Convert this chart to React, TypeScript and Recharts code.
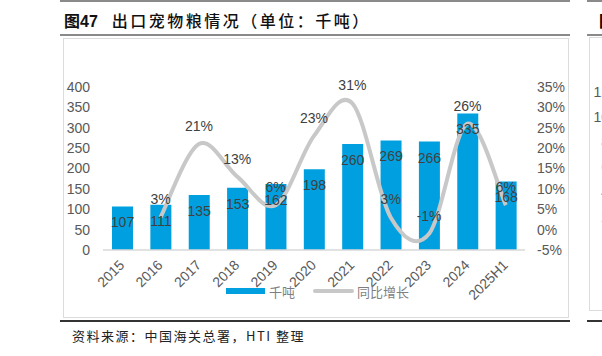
import {
  ComposedChart,
  Bar,
  Line,
  XAxis,
  YAxis,
  LabelList,
} from "recharts";

const years = ["2015", "2016", "2017", "2018", "2019", "2020", "2021", "2022", "2023", "2024", "2025H1"];
const volume = [107, 111, 135, 153, 162, 198, 260, 269, 266, 335, 168];
const growth = [null, 3, 21, 13, 6, 23, 31, 3, -1, 26, 6];
const leftTicks = [0, 50, 100, 150, 200, 250, 300, 350, 400];
const rightTicks = [-5, 0, 5, 10, 15, 20, 25, 30, 35];
const sideTicks = ["12", "10", "8", "6", "4", "2"];

const data = years.map((y, i) => ({ year: y, volume: volume[i], growth: growth[i] }));

const FONT = 'Arial, "Liberation Sans", "Noto Sans CJK SC", sans-serif';
const CJK = '"Noto Sans CJK SC", sans-serif';

// Excel-style smoothed line (catmull-rom like bezier)
function excelSmooth(context: any) {
  let pts: number[][] = [];
  return {
    areaStart() {},
    areaEnd() {},
    lineStart() {
      pts = [];
    },
    point(x: number, y: number) {
      pts.push([+x, +y]);
    },
    lineEnd() {
      if (!pts.length) return;
      context.moveTo(pts[0][0], pts[0][1]);
      for (let i = 0; i < pts.length - 1; i++) {
        const p0 = pts[i - 1] || pts[i];
        const p1 = pts[i];
        const p2 = pts[i + 1];
        const p3 = pts[i + 2] || p2;
        context.bezierCurveTo(
          p1[0] + (p2[0] - p0[0]) / 6,
          p1[1] + (p2[1] - p0[1]) / 6,
          p2[0] - (p3[0] - p1[0]) / 6,
          p2[1] - (p3[1] - p1[1]) / 6,
          p2[0],
          p2[1]
        );
      }
    },
  };
}

function YearTick({ x, y, payload }: any) {
  return (
    <text
      x={x + 3}
      y={y + 16}
      transform={`rotate(-45, ${x + 3}, ${y + 16})`}
      textAnchor="end"
      fontSize={14}
      fill="#595959"
      fontFamily={FONT}
    >
      {payload.value}
    </text>
  );
}

export default function App() {
  return (
    <div
      style={{
        position: "fixed",
        left: 0,
        top: 0,
        width: 602,
        height: 356,
        background: "#fff",
        overflow: "hidden",
        fontFamily: FONT,
      }}
    >
      <div style={{ position: "absolute", left: 60, top: 0, width: 510, height: 2, background: "#8a8a8a" }} />
      <div style={{ position: "absolute", left: 587, top: 0, width: 20, height: 2, background: "#8a8a8a" }} />
      <div
        style={{
          position: "absolute",
          left: 64,
          top: 10,
          fontSize: 16,
          lineHeight: "20px",
          color: "#111",
          whiteSpace: "nowrap",
        }}
      >
        <span style={{ fontWeight: 700, fontFamily: CJK }}>图</span>
        <span style={{ fontWeight: 700, fontFamily: FONT }}>47</span>
        <span style={{ fontFamily: CJK, fontWeight: 500, marginLeft: 14, letterSpacing: 2.5 }}>
          出口宠物粮情况（单位：千吨）
        </span>
      </div>
      <div style={{ position: "absolute", left: 599, top: 10, fontSize: 16, lineHeight: "20px", fontFamily: CJK, fontWeight: 700 }}>图</div>
      <div style={{ position: "absolute", left: 60, top: 34, width: 510, height: 2, background: "#8a8a8a" }} />
      <div style={{ position: "absolute", left: 587, top: 34, width: 20, height: 2, background: "#8a8a8a" }} />
      <div
        style={{
          position: "absolute",
          left: 63,
          top: 38,
          width: 506,
          height: 280,
          border: "1px solid #dcdcdc",
          boxSizing: "border-box",
        }}
      />
      <div
        style={{
          position: "absolute",
          left: 589,
          top: 37,
          width: 30,
          height: 274,
          border: "1px solid #dcdcdc",
          boxSizing: "border-box",
        }}
      />
      {sideTicks.map((t, i) => (
        <div
          key={t}
          style={{
            position: "absolute",
            left: 580,
            width: 29,
            textAlign: "right",
            top: 84 + i * 25,
            fontSize: 14,
            lineHeight: "16px",
            color: "#595959",
          }}
        >
          {t}
        </div>
      ))}
      <ComposedChart
        width={602}
        height={356}
        data={data}
        margin={{ top: 87, right: 32, bottom: 66, left: 63 }}
        style={{ position: "absolute", left: 0, top: 0 }}
      >
        <XAxis
          dataKey="year"
          interval={0}
          tickLine={false}
          tickSize={0}
          tickMargin={0}
          height={40}
          stroke="#d9d9d9"
          strokeWidth={1.5}
          tick={<YearTick />}
        />
        <YAxis
          yAxisId="left"
          width={40}
          domain={[0, 400]}
          ticks={leftTicks}
          interval={0}
          axisLine={false}
          tickLine={false}
          tickMargin={7}
          tick={{ fontSize: 14, fill: "#595959", fontFamily: FONT }}
        />
        <YAxis
          yAxisId="right"
          orientation="right"
          width={45}
          domain={[-5, 35]}
          ticks={rightTicks}
          interval={0}
          axisLine={false}
          tickLine={false}
          tickMargin={6}
          tickFormatter={(v: number) => `${v}%`}
          tick={{ fontSize: 14, fill: "#595959", fontFamily: FONT, textAnchor: "start" }}
        />
        <Bar yAxisId="left" dataKey="volume" fill="#00a0e0" barSize={21} isAnimationActive={false}>
          <LabelList
            dataKey="volume"
            position="insideTop"
            offset={11}
            fontSize={14}
            fill="#404040"
            fontFamily={FONT}
          />
        </Bar>
        <Line
          yAxisId="right"
          dataKey="growth"
          type={excelSmooth as any}
          stroke="#c8c8c8"
          strokeWidth={4}
          dot={false}
          activeDot={false}
          isAnimationActive={false}
        >
          <LabelList
            dataKey="growth"
            position="top"
            offset={13}
            fontSize={14}
            fill="#404040"
            fontFamily={FONT}
            formatter={(v: any) => (v == null ? "" : `${v}%`)}
          />
        </Line>
      </ComposedChart>
      {/* legend */}
      <div style={{ position: "absolute", left: 226, top: 288, width: 39, height: 6, background: "#00a0e0" }} />
      <div
        style={{
          position: "absolute",
          left: 269,
          top: 283,
          fontSize: 13,
          lineHeight: "18px",
          color: "#7f7f7f",
          fontFamily: CJK,
        }}
      >
        千吨
      </div>
      <div
        style={{ position: "absolute", left: 313, top: 289, width: 41, height: 4, borderRadius: 2, background: "#c8c8c8" }}
      />
      <div
        style={{
          position: "absolute",
          left: 357,
          top: 283,
          fontSize: 13,
          lineHeight: "18px",
          color: "#7f7f7f",
          fontFamily: CJK,
        }}
      >
        同比增长
      </div>
      <div style={{ position: "absolute", left: 60, top: 320, width: 510, height: 1.5, background: "#333" }} />
      <div style={{ position: "absolute", left: 587, top: 320, width: 20, height: 1.5, background: "#333" }} />
      <div
        style={{
          position: "absolute",
          left: 72,
          top: 327,
          fontSize: 13,
          lineHeight: "18px",
          color: "#222",
          fontFamily: CJK,
          whiteSpace: "nowrap",
          letterSpacing: 1.5,
        }}
      >
        资料来源：中国海关总署，HTI 整理
      </div>
    </div>
  );
}
